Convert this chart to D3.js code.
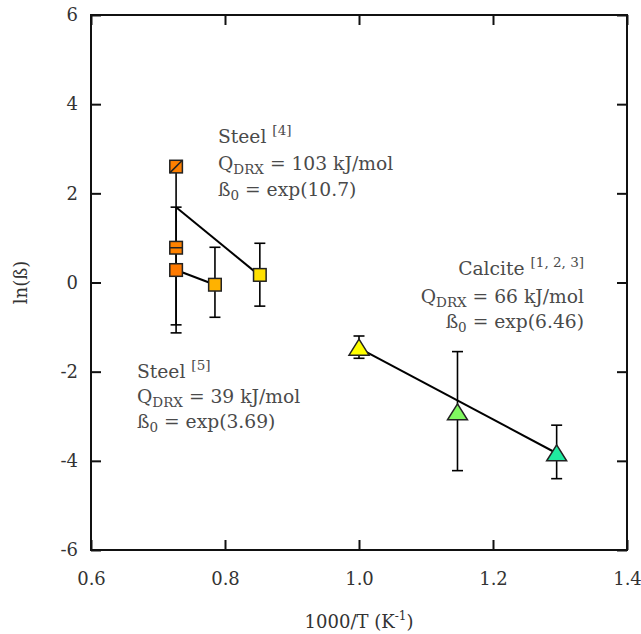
<!DOCTYPE html>
<html>
<head>
<meta charset="utf-8">
<script src="https://cdn.jsdelivr.net/npm/d3@7/dist/d3.min.js"></script>
<style>
  html, body { margin: 0; padding: 0; background: #fff; }
  svg { display: block; }
  text { font-family: "DejaVu Serif", serif; }
</style>
</head>
<body>
<svg id="chart" width="641" height="634"></svg>
<script>
// Axis ticks
const xTicks = [0.6, 0.8, 1.0, 1.2, 1.4];
const yTicks = [-6, -4, -2, 0, 2, 4, 6];

// Steel data points (1000/T, ln β)
const steelX = [0.727, 0.727, 0.727, 0.785, 0.852];
const steelY = [2.6, 0.78, 0.28, -0.05, 0.17];
const steelColor = ["#ff8000", "#ff8200", "#ff7a00", "#ffb200", "#ffe000"];
const steelMark = ["slash", "bar", "plain", "plain", "plain"];

// Steel error bars
const steelErrX = [0.727, 0.727, 0.785, 0.852];
const steelErrLo = [-0.95, -1.13, -0.78, -0.53];
const steelErrHi = [1.69, 2.6, 0.79, 0.88];

// Calcite data points with error bars
const calciteX = [1.0, 1.147, 1.295];
const calciteY = [-1.45, -2.9, -3.82];
const calciteLo = [-1.70, -4.22, -4.40];
const calciteHi = [-1.20, -1.55, -3.20];
const calciteColor = ["#ffff00", "#80f860", "#20eaa0"];

// Arrhenius fit lines
const steel4Fit = [[0.727, 1.69], [0.852, 0.15]];
const steel5Fit = [[0.727, 0.28], [0.785, -0.05]];
const calciteFit = [[1.0, -1.47], [1.295, -3.83]];

const svg = d3.select("#chart");
const m = { left: 91, right: 627, top: 15, bottom: 550 };

const x = d3.scaleLinear().domain([0.6, 1.4]).range([m.left, m.right]);
const y = d3.scaleLinear().domain([-6, 6]).range([m.bottom, m.top]);
const fmtX = d3.format(".1f");
const fmtY = d => String(d);

const tickColor = "#111";
const labelColor = "#333";

// Bottom axis with inward ticks
const gx = svg.append("g").attr("transform", `translate(0,${m.bottom})`)
  .call(d3.axisBottom(x).tickValues(xTicks).tickFormat(fmtX).tickSizeInner(-10).tickSizeOuter(0).tickPadding(22));
// Top mirror ticks
const gxt = svg.append("g").attr("transform", `translate(0,${m.top})`)
  .call(d3.axisTop(x).tickValues(xTicks).tickFormat("").tickSizeInner(-10).tickSizeOuter(0));
// Left axis
const gy = svg.append("g").attr("transform", `translate(${m.left},0)`)
  .call(d3.axisLeft(y).tickValues(yTicks).tickFormat(fmtY).tickSizeInner(-10).tickSizeOuter(0).tickPadding(13));
// Right mirror ticks
const gyr = svg.append("g").attr("transform", `translate(${m.right},0)`)
  .call(d3.axisRight(y).tickValues(yTicks).tickFormat("").tickSizeInner(-10).tickSizeOuter(0));

[gx, gxt, gy, gyr].forEach(g => {
  g.select(".domain").remove();
  g.selectAll(".tick line").attr("stroke", tickColor).attr("stroke-width", 2);
  g.selectAll(".tick text").attr("fill", labelColor).attr("font-size", 18)
    .attr("font-family", "DejaVu Serif, serif");
});

// Plot frame
svg.append("rect")
  .attr("x", m.left).attr("y", m.top)
  .attr("width", m.right - m.left).attr("height", m.bottom - m.top)
  .attr("fill", "none").attr("stroke", tickColor).attr("stroke-width", 2);

// Axis titles
const xt = svg.append("text")
  .attr("x", (m.left + m.right) / 2).attr("y", 628)
  .attr("text-anchor", "middle").attr("fill", labelColor).attr("font-size", 18);
xt.append("tspan").text("1000/T (K");
xt.append("tspan").attr("font-size", 12).attr("dy", -8).text("-1");
xt.append("tspan").attr("dy", 8).text(")");

svg.append("text")
  .attr("transform", `translate(27,${(m.top + m.bottom) / 2}) rotate(-90)`)
  .attr("text-anchor", "middle").attr("fill", labelColor).attr("font-size", 18)
  .text("ln(ß)");

// Fit lines
const line = d3.line().x(d => x(d[0])).y(d => y(d[1]));
[steel4Fit, steel5Fit, calciteFit].forEach(f => {
  svg.append("path").attr("d", line(f)).attr("fill", "none")
    .attr("stroke", "#000").attr("stroke-width", 2);
});

// Error bars
function errorBar(xv, lo, hi) {
  const g = svg.append("g").attr("stroke", "#000").attr("stroke-width", 1.6);
  const cx = x(xv);
  g.append("line").attr("x1", cx).attr("x2", cx).attr("y1", y(lo)).attr("y2", y(hi));
  [lo, hi].forEach(v => {
    g.append("line").attr("x1", cx - 5.5).attr("x2", cx + 5.5).attr("y1", y(v)).attr("y2", y(v));
  });
}
steelErrX.forEach((xv, i) => errorBar(xv, steelErrLo[i], steelErrHi[i]));
calciteX.forEach((xv, i) => errorBar(xv, calciteLo[i], calciteHi[i]));

// Steel square markers
const s = 6.3;
steelX.forEach((xv, i) => {
  const cx = x(xv), cy = y(steelY[i]);
  svg.append("rect").attr("x", cx - s).attr("y", cy - s)
    .attr("width", 2 * s).attr("height", 2 * s)
    .attr("fill", steelColor[i]).attr("stroke", "#222").attr("stroke-width", 1.5);
  if (steelMark[i] === "slash") {
    svg.append("line").attr("x1", cx - s).attr("y1", cy + s).attr("x2", cx + s).attr("y2", cy - s)
      .attr("stroke", "#222").attr("stroke-width", 1.5);
  } else if (steelMark[i] === "bar") {
    svg.append("line").attr("x1", cx - s).attr("y1", cy).attr("x2", cx + s).attr("y2", cy)
      .attr("stroke", "#222").attr("stroke-width", 1.5);
  }
});

// Calcite triangle markers
const tw = 10, th = 8;
calciteX.forEach((xv, i) => {
  const cx = x(xv), cy = y(calciteY[i]);
  svg.append("path")
    .attr("d", `M${cx},${cy - th}L${cx + tw},${cy + th}L${cx - tw},${cy + th}Z`)
    .attr("fill", calciteColor[i]).attr("stroke", "#222").attr("stroke-width", 1.5)
    .attr("stroke-linejoin", "miter");
});

// Annotations
const annColor = "#4a4a4a";
function annotate(xp, baselines, anchor, name, cite, q, b0) {
  const g = svg.append("g").attr("fill", annColor).attr("font-size", 18.7).attr("text-anchor", anchor);
  const t1 = g.append("text").attr("x", xp).attr("y", baselines[0]);
  t1.append("tspan").text(name + " ");
  t1.append("tspan").attr("font-size", 13.5).attr("dy", -8).text(cite);
  const t2 = g.append("text").attr("x", xp).attr("y", baselines[1]);
  t2.append("tspan").text("Q");
  t2.append("tspan").attr("font-size", 13.5).attr("dy", 4).text("DRX");
  t2.append("tspan").attr("dy", -4).text(" = " + q + " kJ/mol");
  const t3 = g.append("text").attr("x", xp).attr("y", baselines[2]);
  t3.append("tspan").text("ß");
  t3.append("tspan").attr("font-size", 13.5).attr("dy", 4).text("0");
  t3.append("tspan").attr("dy", -4).text(" = exp(" + b0 + ")");
}
annotate(218, [143, 170, 196], "start", "Steel", "[4]", "103", "10.7");
annotate(137, [378, 403, 428], "start", "Steel", "[5]", "39", "3.69");
annotate(584, [275, 303, 328], "end", "Calcite", "[1, 2, 3]", "66", "6.46");
</script>
</body>
</html>
